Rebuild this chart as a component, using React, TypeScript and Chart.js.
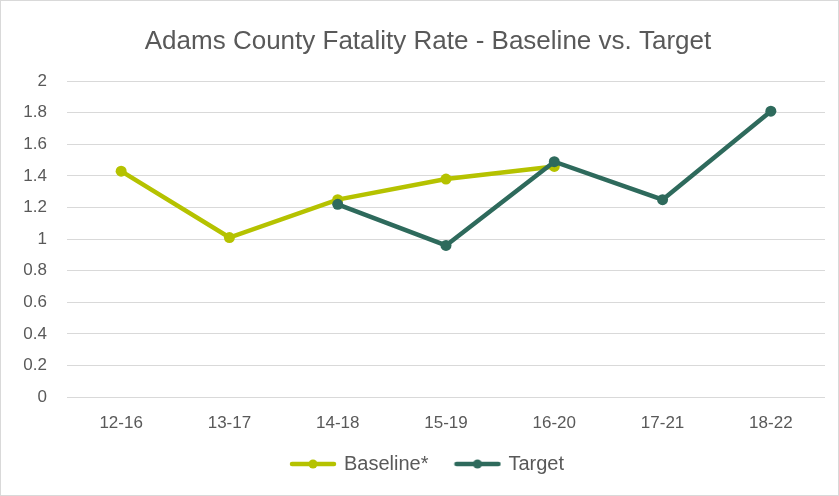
import React, { useEffect, useRef } from "react";
import { Chart, registerables } from "chart.js";

Chart.register(...registerables);

const categories = ["12-16", "13-17", "14-18", "15-19", "16-20", "17-21", "18-22"];
const baselineValues = [1.43, 1.01, 1.25, 1.38, 1.46, null, null];
const targetValues = [null, null, 1.22, 0.96, 1.49, 1.25, 1.81];
const seriesNames = ["Baseline*", "Target"];
const titleText = "Adams County Fatality Rate - Baseline vs. Target";

const BASE_COLOR = "#B5C200";
const TARGET_COLOR = "#2E6A5C";
const TEXT_COLOR = "#595959";
const FONT = "'Liberation Sans', Arial, sans-serif";

function legendIcon(color: string): HTMLCanvasElement {
  const c = document.createElement("canvas");
  c.width = 48;
  c.height = 12;
  const ctx = c.getContext("2d")!;
  ctx.strokeStyle = color;
  ctx.lineWidth = 4.5;
  ctx.lineCap = "round";
  ctx.beginPath();
  ctx.moveTo(3, 6);
  ctx.lineTo(45, 6);
  ctx.stroke();
  ctx.fillStyle = color;
  ctx.beginPath();
  ctx.arc(24, 6, 4.5, 0, Math.PI * 2);
  ctx.fill();
  return c;
}

// Let axis labels draw outside their (deliberately tight) layout boxes.
const unclipLabels = {
  id: "unclipLabels",
  afterLayout(chart: any) {
    const { x, y } = chart.scales;
    if (y) y.left = 0;
    if (x) x.bottom = chart.height;
  },
};

export default function App() {
  const ref = useRef<HTMLCanvasElement>(null);

  useEffect(() => {
    if (!ref.current) return;
    const icons = [legendIcon(BASE_COLOR), legendIcon(TARGET_COLOR)];
    const chart = new Chart(ref.current, {
      type: "line",
      data: {
        labels: categories,
        datasets: [
          {
            label: seriesNames[0],
            data: baselineValues,
            borderColor: BASE_COLOR,
            backgroundColor: BASE_COLOR,
            borderWidth: 4.5,
            pointRadius: 5.5,
            pointBackgroundColor: BASE_COLOR,
            pointBorderWidth: 0,
            tension: 0,
            order: 1,
          },
          {
            label: seriesNames[1],
            data: targetValues,
            borderColor: TARGET_COLOR,
            backgroundColor: TARGET_COLOR,
            borderWidth: 4.5,
            pointRadius: 5.5,
            pointBackgroundColor: TARGET_COLOR,
            pointBorderWidth: 0,
            tension: 0,
            order: 0,
          },
        ],
      },
      plugins: [unclipLabels],
      options: {
        animation: false,
        responsive: false,
        maintainAspectRatio: false,
        layout: { padding: { left: 30, right: 13, top: 0, bottom: 11 } },
        plugins: {
          title: {
            display: true,
            text: titleText,
            color: TEXT_COLOR,
            font: { family: FONT, size: 26, weight: "normal" },
            padding: { top: 25, bottom: 24 },
          },
          legend: {
            position: "bottom",
            labels: {
              color: TEXT_COLOR,
              font: { family: FONT, size: 20 },
              usePointStyle: true,
              pointStyleWidth: 42,
              boxHeight: 12,
              padding: 28,
              generateLabels: (ch: any) =>
                ch.data.datasets.map((ds: any, i: number) => ({
                  text: ds.label,
                  fillStyle: ds.borderColor,
                  strokeStyle: ds.borderColor,
                  lineWidth: 0,
                  pointStyle: icons[i],
                  hidden: false,
                  datasetIndex: i,
                  fontColor: TEXT_COLOR,
                })),
            },
          },
          tooltip: { enabled: false },
        },
        scales: {
          x: {
            offset: true,
            grid: { display: false, drawTicks: false },
            border: { display: false },
            ticks: { color: TEXT_COLOR, font: { family: FONT, size: 17 }, padding: 16 },
            afterFit: (scale: any) => {
              scale.height = 29;
            },
          },
          y: {
            min: 0,
            max: 2,
            grid: { color: "#D9D9D9", lineWidth: 1, drawTicks: false },
            border: { display: false },
            ticks: {
              stepSize: 0.2,
              color: TEXT_COLOR,
              font: { family: FONT, size: 17 },
              padding: 20,
              callback: (v: any) => String(Math.round(Number(v) * 10) / 10),
            },
            afterFit: (scale: any) => {
              scale.width = 36;
            },
          },
        },
      },
    });
    return () => chart.destroy();
  }, []);

  return (
    <div
      style={{
        position: "fixed",
        left: 0,
        top: 0,
        width: 837,
        height: 494,
        border: "1px solid #D9D9D9",
        background: "#fff",
      }}
    >
      <canvas ref={ref} width={837} height={494} style={{ display: "block" }} />
    </div>
  );
}
